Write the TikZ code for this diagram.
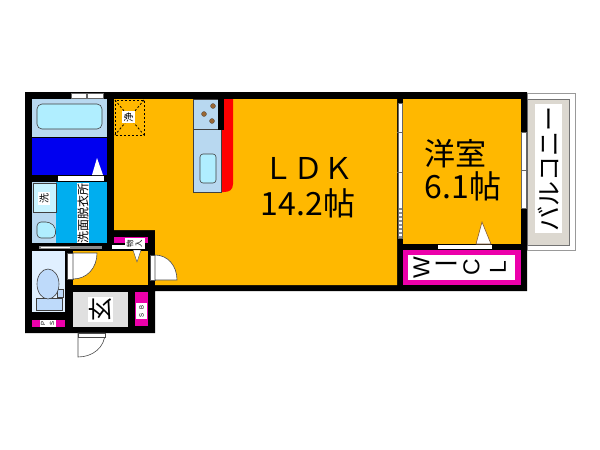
\documentclass[tikz,border=0pt]{standalone}
\usepackage{fontspec}
\setmainfont{Noto Sans CJK JP}
\newfontfamily\latinf{Liberation Sans}
\definecolor{room}{RGB}{255,184,0}
\definecolor{pale}{RGB}{184,216,240}
\definecolor{water}{RGB}{176,238,255}
\definecolor{deepblue}{RGB}{0,0,240}
\definecolor{cyanroom}{RGB}{0,174,239}
\definecolor{wcfill}{RGB}{224,240,255}
\definecolor{wcpart}{RGB}{190,218,250}
\definecolor{pink}{RGB}{236,0,170}
\definecolor{beige}{RGB}{220,216,208}
\begin{document}
\begin{tikzpicture}[x=1pt,y=-1pt,
  lbl/.style={inner sep=0pt,text=black},
  whitebox/.style={fill=white,draw=none,inner sep=0pt},
  doorstrip/.style={fill=white,draw=black!60,line width=.5pt},
  dk/.style={draw=black!75,line width=.6pt}]
\useasboundingbox (0,0) rectangle (600,450);
\fill[white] (0,0) rectangle (600,450);
% balcony
\fill[white,draw=black!40,line width=.6pt] (527,93) rectangle (575,250);
\fill[beige,draw=black!55,line width=.6pt] (527,99) rectangle (569,245);
\fill[white] (535,104) rectangle (562,233);
% walls outline
\fill[black] (25,92) -- (527,92) -- (527,291) -- (155,291) -- (155,333) -- (25,333) -- cycle;
% rooms
\fill[room] (114,99) -- (397,99) -- (397,285) -- (155,285) -- (155,230) -- (114,230) -- cycle;
\fill[room] (403,99) rectangle (521,244);
\fill[room] (73,251) rectangle (148,285);
% bath
\fill[pale] (32,99) rectangle (107,137);
\fill[deepblue] (32,138) rectangle (107,175);
\draw[dk,rounded corners=5pt,fill=water] (37,104) rectangle (102,129);
\fill[white] (97,158) -- (92,175) -- (103,175) -- cycle;
\fill[white] (58,176) rectangle (104,181);
% top window
\draw[doorstrip] (71,93) rectangle (86,98);
\draw[doorstrip] (87,93) rectangle (103,98);
% washroom
\fill[cyanroom] (56,182) rectangle (107,243);
\fill[pale] (32,182) rectangle (56,243);
\draw[dk,fill=water!70!white] (33,183) rectangle (56,212);
\node[whitebox,minimum width=12pt,minimum height=13pt] (senbox) at (44,198) {};
\node[lbl,rotate=90,font=\fontsize{10}{10}\selectfont] (sen) at (44,198) {洗};
\draw[dk,fill=water,rounded corners=4pt] (37,222) -- (50,222) -- (56,228) -- (55,238) -- (37,238) -- cycle;
\node[whitebox,minimum width=12pt,minimum height=60pt] (senbox2) at (83,213) {};
\node[lbl,rotate=90,font=\fontsize{12}{12}\selectfont] (sent) at (83,213) {洗面脱衣所};
\fill[black!45] (39,246) rectangle (102,249);
\fill[white] (41,246.8) rectangle (70,248.2);
% toilet
\fill[wcfill] (32,251) rectangle (65,312);
\draw[dk,fill=wcpart] (36,298) rectangle (62,310);
\draw[dk,fill=wcpart] (57,289) rectangle (63,297);
\draw[dk,fill=wcpart] (48,284) ellipse [x radius=11,y radius=15];
% hall door
\draw[black!70,fill=white,line width=.6pt] (67,253) rectangle (73,279);
\fill[white,draw=black!70,line width=.6pt] (73,279) .. controls (87,279) and (97,268) .. (97,253) -- (73,253) -- cycle;
% closet
\fill[pink] (114,237) rectangle (148,243);
\fill[white] (112,245) rectangle (145,249);
\fill[white] (125,238) rectangle (145,249);
\node[lbl,font=\fontsize{7.5}{7.5}\selectfont,rotate=90] (mono) at (130,243.5) {物};
\node[lbl,font=\fontsize{7.5}{7.5}\selectfont,rotate=90] (iri) at (139,243.5) {入};
\fill[white,draw=black!70,line width=.4pt] (137,262) -- (133,250) -- (141,250) -- cycle;
% right hall door
\draw[black!70,fill=white,line width=.6pt] (150,255) rectangle (155,280);
\fill[white,draw=black!70,line width=.6pt] (155,255) .. controls (168,255) and (177,266) .. (177,280) -- (155,280) -- cycle;
% entry
\fill[black!12] (73,292) rectangle (128,327);
\node[whitebox,minimum width=25pt,minimum height=25pt] (genbox) at (100.5,309.5) {};
\node[lbl,font=\fontsize{24}{24}\selectfont,rotate=90] (gen) at (100.5,309.5) {玄};
\fill[pink] (135,292) rectangle (148,326);
\fill[white] (136,303) rectangle (147,319);
\node[lbl,rotate=90,font=\latinf\fontsize{6}{6}\selectfont] (sb1) at (141.5,315) {S};
\node[lbl,rotate=90,font=\latinf\fontsize{6}{6}\selectfont] (sb2) at (141.5,307) {B};
\fill[pink] (32,320) rectangle (65,327);
\fill[white] (40,320) rectangle (56,327);
\node[lbl,rotate=90,font=\latinf\fontsize{6}{6}\selectfont] (pa) at (43,323.5) {P};
\node[lbl,rotate=90,font=\latinf\fontsize{6}{6}\selectfont] (sa) at (52,323.5) {S};
% entrance door
\draw[black!70,fill=white,line width=.6pt] (78,333) -- (78,357) .. controls (93,357) and (105,347) .. (105,333) -- cycle;
\fill[white,draw=black!70,line width=.5pt] (78,333) rectangle (105,337);
% kitchen
\fill[red] (221,99) -- (233,99) -- (233,184) .. controls (233,190) and (229,192) .. (224,192) -- (221,192) -- cycle;
\draw[dk,fill=pale] (193,99) rectangle (221,192);
\draw[dk] (193,129) -- (219,129);
\fill[black] (218,99) rectangle (224,130);
\fill[brown!80!black,draw=black!70,line width=.3pt] (213,106) circle (2.5);
\fill[brown!80!black,draw=black!70,line width=.3pt] (204,114) circle (2.5);
\fill[brown!80!black,draw=black!70,line width=.3pt] (212,121) circle (2.5);
\draw[dk,rounded corners=3pt,fill=water] (200,154) rectangle (216,183);
% shaft
\draw[black,line width=1pt,dash pattern=on 2pt off 2pt] (115,100) rectangle (144,135);
\draw[black,line width=.8pt,dash pattern=on 2pt off 2pt] (115,100) -- (144,135) (144,100) -- (115,135);
\node[whitebox,minimum width=13pt,minimum height=12pt] (shaftb) at (128.5,117) {};
\node[lbl,rotate=90,font=\fontsize{10}{10}\selectfont] (jou) at (128.5,117) {浄};
% partition
\draw[black!60,fill=white,line width=.5pt] (398.5,103) rectangle (402,238);
\draw[black!60,line width=.5pt] (397,132) -- (403,132) (397,172) -- (403,172);
\foreach \y in {208,212,...,236}{\fill[black!45] (398.5,\y) rectangle (402,\y+2);}
% bedroom window
\draw[black!60,fill=white,line width=.5pt] (521.5,132) rectangle (526,208);
\draw[black!60,line width=.5pt] (521,170) -- (527,170);
% WCL
\fill[pink] (403,250) rectangle (521,285);
\fill[white] (408,255) rectangle (515,280);
\fill[white] (438,245) rectangle (492,249);
\fill[white,draw=brown!70!black,line width=.6pt] (482,222) -- (476,244) -- (491,244) -- cycle;
\foreach \n/\t/\x in {wc/W/421.5,cc/C/471.5,lc/L/498}{\node[lbl,rotate=90,font=\latinf\fontsize{23}{23}\selectfont] (\n) at (\x,267.5) {\t};}
\node[lbl,font=\fontsize{26}{26}\selectfont] (dc) at (446,267.5) {ー};
% labels
\node[lbl,font=\fontsize{30}{30}\selectfont] (ldk) at (308,168) {ＬＤＫ};
\node[lbl,font=\fontsize{32}{32}\selectfont] (ldkn) at (308,203) {14.2帖};
\node[lbl,font=\fontsize{31}{31}\selectfont] (yo) at (455,154) {洋室};
\node[lbl,font=\fontsize{32}{32}\selectfont] (yon) at (463,186) {6.1帖};
\node[lbl,rotate=90,font=\fontsize{25}{25}\selectfont] (bal) at (548.5,169) {バルコニー};
\end{tikzpicture}
\end{document}
